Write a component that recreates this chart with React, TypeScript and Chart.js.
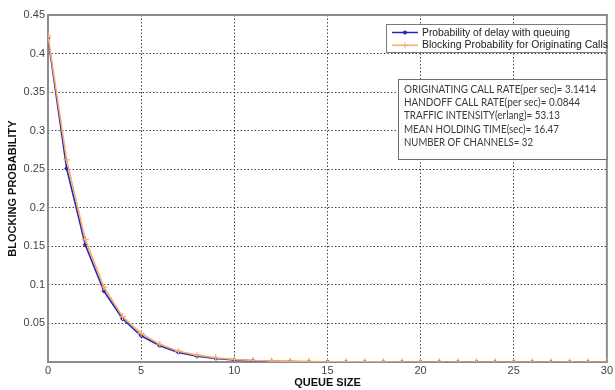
import React, { useEffect, useRef } from "react";
import { Chart, registerables } from "chart.js";

Chart.register(...registerables);

const queueSizes = [0, 1, 2, 3, 4, 5, 6, 7, 8, 9, 10, 11, 12, 13, 14, 15, 16, 17, 18, 19, 20, 21, 22, 23, 24, 25, 26, 27, 28, 29, 30];
const delayProb = [0.42, 0.251, 0.152, 0.092, 0.056, 0.034, 0.021, 0.0125, 0.0075, 0.0045, 0.0027, 0.0016, 0.001, 0.0006, 0.0004, 0.0002, 0.0001, 0.0001, 0, 0, 0, 0, 0, 0, 0, 0, 0, 0, 0, 0, 0];
const blockingProb = [0.423, 0.262, 0.159, 0.097, 0.059, 0.037, 0.023, 0.014, 0.0089, 0.0055, 0.0033, 0.002, 0.0013, 0.0008, 0.0005, 0.0003, 0.0002, 0.0001, 0.0001, 0, 0, 0, 0, 0, 0, 0, 0, 0, 0, 0, 0];
const seriesNames = ["Probability of delay with queuing", "Blocking Probability for Originating Calls"];
const infoLines = [
  "ORIGINATING CALL RATE(per sec)= 3.1414",
  "HANDOFF CALL RATE(per sec)= 0.0844",
  "TRAFFIC INTENSITY(erlang)= 53.13",
  "MEAN HOLDING TIME(sec)= 16.47",
  "NUMBER OF CHANNELS= 32",
];
const xTitle = "QUEUE SIZE";
const yTitle = "BLOCKING PROBABILITY";

const BLUE = "#2626b4";
const ORANGE = "#f4ae6a";

const boxPlugin = {
  id: "boxPlugin",
  beforeDatasetsDraw(chart: any) {
    const { ctx, chartArea: a } = chart;
    ctx.save();
    ctx.strokeStyle = "#8c8c8c";
    ctx.lineWidth = 2;
    ctx.strokeRect(a.left, a.top, a.right - a.left, a.bottom - a.top);
    ctx.restore();
  },
  afterDraw(chart: any) {
    const { ctx, chartArea: a } = chart;
    ctx.save();
    // legend box
    const lx = 386, ly = 24, lw = a.right - 386, lh = 29;
    ctx.fillStyle = "#ffffff";
    ctx.fillRect(lx, ly, lw, lh);
    ctx.strokeStyle = "#7a7a7a";
    ctx.lineWidth = 1;
    ctx.strokeRect(lx + 0.5, ly + 0.5, lw - 1, lh - 1);
    const colors = [BLUE, ORANGE];
    ctx.font = "11px 'Liberation Sans', Arial, sans-serif";
    ctx.textBaseline = "middle";
    const maxW = [148, 186];
    seriesNames.forEach((name, i) => {
      const y = 32.5 + i * 12.8;
      ctx.strokeStyle = colors[i];
      ctx.lineWidth = 1.5;
      ctx.beginPath();
      ctx.moveTo(392, y);
      ctx.lineTo(418, y);
      ctx.stroke();
      ctx.fillStyle = colors[i];
      if (i === 0) {
        ctx.beginPath();
        ctx.arc(405, y, 2, 0, Math.PI * 2);
        ctx.fill();
      } else {
        ctx.lineWidth = 1;
        ctx.beginPath();
        ctx.moveTo(402, y);
        ctx.lineTo(408, y);
        ctx.moveTo(405, y - 3);
        ctx.lineTo(405, y + 3);
        ctx.stroke();
      }
      ctx.fillStyle = "#222222";
      ctx.fillText(name, 422, y, maxW[i]);
    });
    // info box
    const bx = 398.5, by = 79.5, bw = a.right - 398.5, bh = 80;
    ctx.fillStyle = "#ffffff";
    ctx.fillRect(bx, by, bw, bh);
    ctx.strokeStyle = "#6e6e6e";
    ctx.lineWidth = 1;
    ctx.strokeRect(bx, by, bw, bh);
    ctx.fillStyle = "#3a3a3a";
    ctx.font = "10.5px Lato, 'Open Sans', sans-serif";
    const infoW = [192, 176, 156, 155, 129];
    infoLines.forEach((t, i) => {
      ctx.fillText(t, 404, 89.5 + i * 13.3, infoW[i]);
    });
    ctx.restore();
  },
};

export default function App() {
  const ref = useRef<HTMLCanvasElement>(null);
  useEffect(() => {
    const chart = new Chart(ref.current!, {
      type: "line",
      data: {
        labels: queueSizes,
        datasets: [
          {
            label: seriesNames[0],
            data: queueSizes.map((x, i) => ({ x, y: delayProb[i] })),
            borderColor: BLUE,
            backgroundColor: BLUE,
            borderWidth: 1.6,
            pointStyle: "rectRot",
            pointRadius: 2.5,
            pointBorderWidth: 0,
            order: 1,
          },
          {
            label: seriesNames[1],
            data: queueSizes.map((x, i) => ({ x, y: blockingProb[i] })),
            borderColor: ORANGE,
            backgroundColor: ORANGE,
            borderWidth: 1.6,
            pointStyle: "cross",
            pointRadius: 3.5,
            pointBorderWidth: 1.2,
            order: 0,
          },
        ],
      },
      options: {
        animation: false,
        responsive: false,
        maintainAspectRatio: false,
        layout: { padding: { top: 15, right: 3, left: 0, bottom: 0 } },
        plugins: { legend: { display: false }, tooltip: { enabled: false } },
        scales: {
          x: {
            type: "linear",
            min: 0,
            max: 30,
            afterFit: (s: any) => { s.height = 28; },
            ticks: {
              stepSize: 5,
              padding: 2,
              color: "#444444",
              font: { family: "'Liberation Sans', Arial, sans-serif", size: 11 },
              maxRotation: 0,
            },
            grid: { color: "#444444", lineWidth: 1, drawTicks: false },
            border: { display: false, dash: [1.5, 2] },
            title: {
              display: true,
              text: xTitle,
              color: "#111111",
              padding: 0,
              font: { family: "'Liberation Sans', Arial, sans-serif", size: 11, weight: "bold" },
            },
          },
          y: {
            min: 0,
            max: 0.45,
            afterFit: (s: any) => { s.width = 48; },
            ticks: {
              stepSize: 0.05,
              padding: 3,
              color: "#444444",
              font: { family: "'Liberation Sans', Arial, sans-serif", size: 11 },
              callback: (v: any) => (v === 0 ? "" : String(Math.round(v * 100) / 100)),
            },
            grid: { color: "#444444", lineWidth: 1, drawTicks: false },
            border: { display: false, dash: [1.5, 2] },
            title: {
              display: true,
              text: yTitle,
              color: "#111111",
              padding: { top: 6, bottom: 0 },
              font: { family: "'Liberation Sans', Arial, sans-serif", size: 11, weight: "bold" },
            },
          },
        },
      },
      plugins: [boxPlugin],
    } as any);
    return () => chart.destroy();
  }, []);
  return (
    <div style={{ position: "fixed", left: 0, top: 0, width: 615, height: 390, background: "#fff" }}>
      <canvas ref={ref} width={615} height={390} style={{ display: "block" }} />
    </div>
  );
}
